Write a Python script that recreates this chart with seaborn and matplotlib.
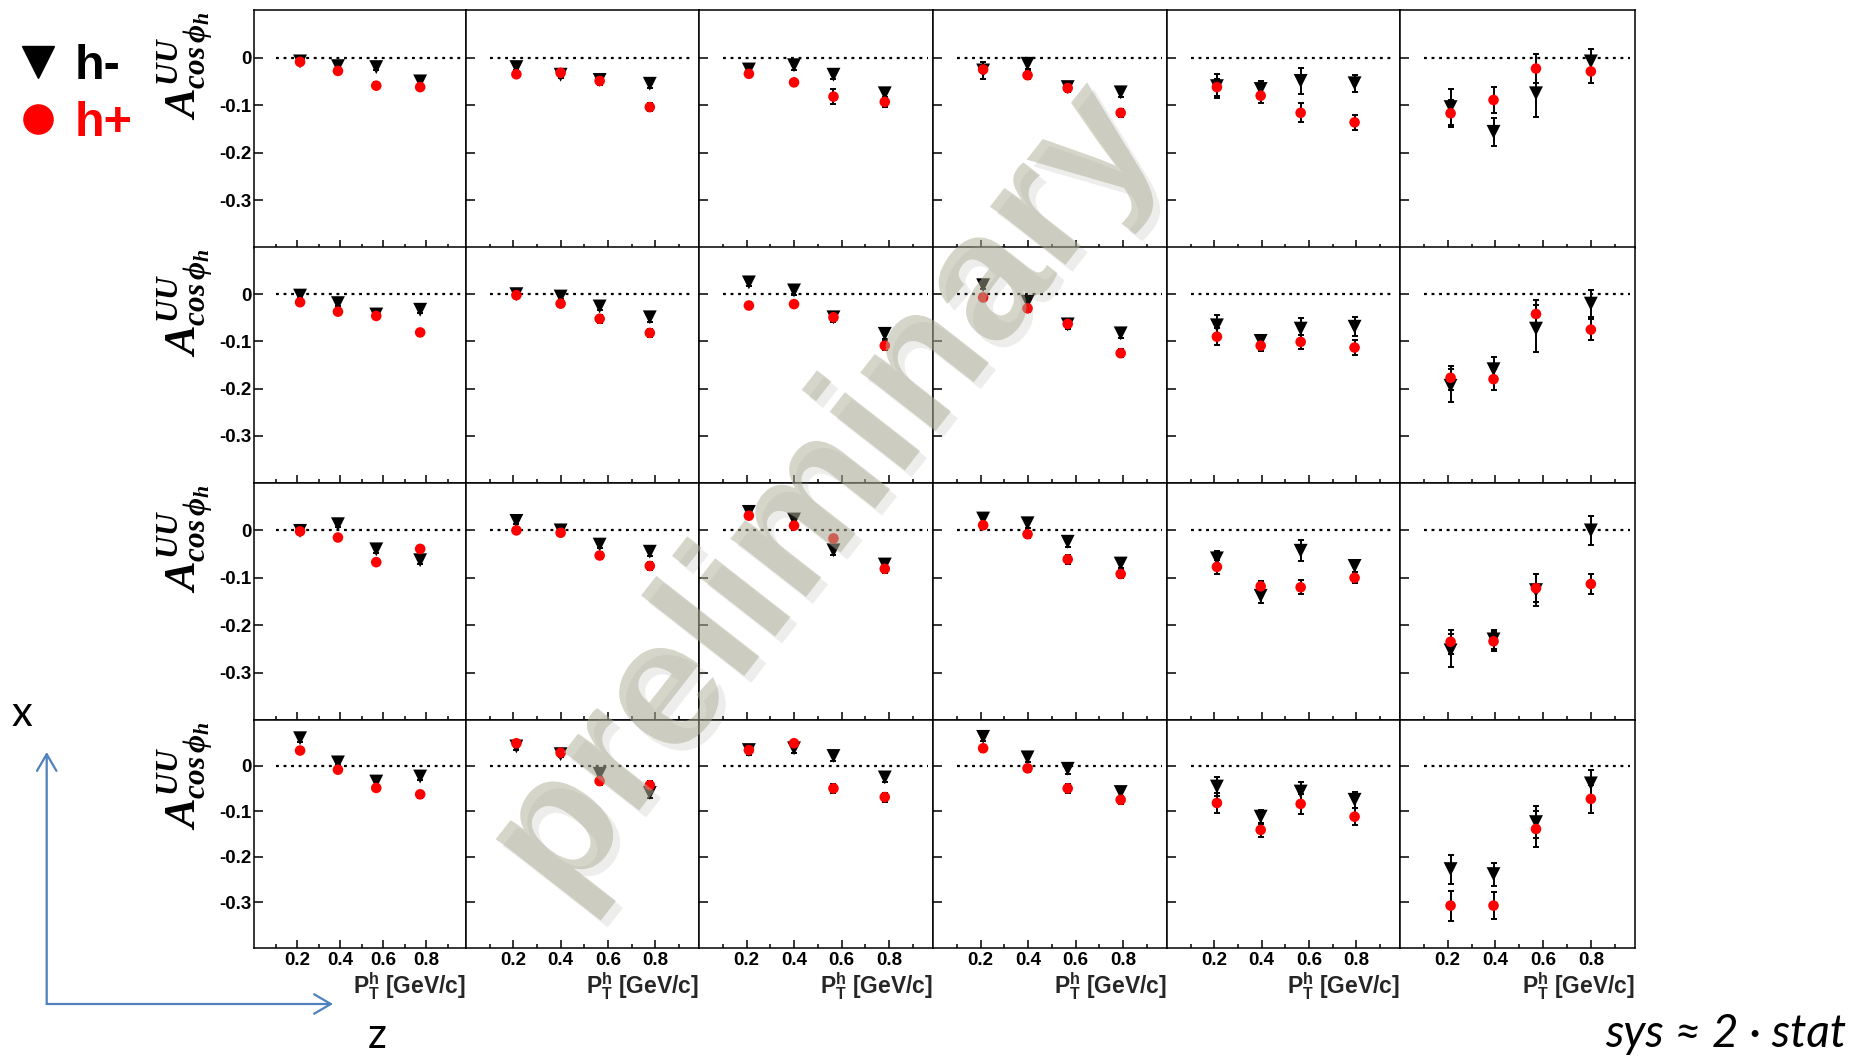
import numpy as np
import pandas as pd
import matplotlib
matplotlib.use("Agg")
import matplotlib.pyplot as plt
import seaborn as sns
from matplotlib.lines import Line2D
from matplotlib.patches import FancyArrowPatch
import matplotlib.patheffects as pe

# ---------------- data ----------------
# columns = z bins (left -> right), rows = x bins (top -> bottom)
PT_MEAN = [
    [0.214, 0.390, 0.568, 0.772],
    [0.213, 0.400, 0.565, 0.777],
    [0.210, 0.400, 0.566, 0.782],
    [0.211, 0.398, 0.567, 0.790],
    [0.211, 0.396, 0.565, 0.793],
    [0.212, 0.392, 0.570, 0.800],
]

# h- values, one list per z column, for each x row
HM_R1 = [[-0.008, -0.018, -0.020, -0.050], [-0.020, -0.036, -0.047, -0.055], [-0.025, -0.016, -0.036, -0.075],
         [-0.027, -0.013, -0.062, -0.073], [-0.060, -0.066, -0.049, -0.054], [-0.104, -0.156, -0.075, -0.008]]
HM_R2 = [[-0.003, -0.019, -0.043, -0.033], [0.000, -0.005, -0.026, -0.049], [0.025, 0.008, -0.049, -0.084],
         [0.019, -0.016, -0.064, -0.083], [-0.066, -0.099, -0.073, -0.069], [-0.194, -0.159, -0.073, -0.020]]
HM_R3 = [[-0.001, 0.013, -0.040, -0.063], [0.020, 0.000, -0.030, -0.045], [0.039, 0.023, -0.042, -0.072],
         [0.025, 0.015, -0.024, -0.070], [-0.059, -0.138, -0.043, -0.075], [-0.253, -0.230, -0.126, 0.000]]
HM_R4 = [[0.060, 0.007, -0.035, -0.024], [0.042, 0.025, -0.018, -0.060], [0.034, 0.038, 0.021, -0.026],
         [0.063, 0.018, -0.007, -0.058], [-0.046, -0.112, -0.057, -0.075], [-0.227, -0.238, -0.124, -0.039]]

# h+ values
HP_R1 = [[-0.009, -0.028, -0.059, -0.062], [-0.035, -0.032, -0.049, -0.104], [-0.034, -0.052, -0.082, -0.093],
         [-0.025, -0.037, -0.064, -0.116], [-0.062, -0.080, -0.116, -0.136], [-0.117, -0.089, -0.023, -0.029]]
HP_R2 = [[-0.017, -0.037, -0.046, -0.081], [-0.002, -0.020, -0.052, -0.082], [-0.024, -0.021, -0.049, -0.109],
         [-0.007, -0.030, -0.063, -0.125], [-0.090, -0.109, -0.101, -0.113], [-0.177, -0.180, -0.042, -0.075]]
HP_R3 = [[-0.002, -0.015, -0.067, -0.039], [0.000, -0.005, -0.053, -0.075], [0.031, 0.010, -0.017, -0.081],
         [0.011, -0.008, -0.061, -0.092], [-0.077, -0.118, -0.120, -0.100], [-0.235, -0.234, -0.122, -0.113]]
HP_R4 = [[0.033, -0.009, -0.049, -0.063], [0.049, 0.028, -0.034, -0.043], [0.034, 0.049, -0.050, -0.069],
         [0.038, -0.006, -0.050, -0.075], [-0.082, -0.141, -0.084, -0.112], [-0.307, -0.307, -0.139, -0.073]]

# statistical errors
EM_R1 = [[0.006, 0.005, 0.007, 0.006], [0.007, 0.006, 0.007, 0.009], [0.008, 0.009, 0.010, 0.010],
         [0.018, 0.010, 0.009, 0.010], [0.025, 0.016, 0.027, 0.018], [0.037, 0.030, 0.050, 0.027]]
EP_R1 = [[0.005, 0.005, 0.007, 0.007], [0.006, 0.006, 0.008, 0.008], [0.007, 0.007, 0.015, 0.010],
         [0.007, 0.008, 0.009, 0.009], [0.018, 0.016, 0.020, 0.016], [0.028, 0.027, 0.030, 0.025]]
EM_R2 = [[0.005, 0.005, 0.006, 0.007], [0.006, 0.006, 0.008, 0.009], [0.008, 0.009, 0.010, 0.010],
         [0.009, 0.008, 0.009, 0.010], [0.022, 0.010, 0.023, 0.020], [0.035, 0.025, 0.050, 0.028]]
EP_R2 = [[0.005, 0.005, 0.006, 0.007], [0.005, 0.006, 0.008, 0.008], [0.007, 0.007, 0.008, 0.009],
         [0.007, 0.007, 0.009, 0.008], [0.018, 0.012, 0.015, 0.015], [0.025, 0.022, 0.030, 0.023]]
EM_R3 = [[0.005, 0.006, 0.007, 0.008], [0.006, 0.006, 0.008, 0.009], [0.008, 0.009, 0.010, 0.010],
         [0.009, 0.009, 0.010, 0.010], [0.015, 0.015, 0.022, 0.012], [0.035, 0.020, 0.033, 0.030]]
EP_R3 = [[0.005, 0.005, 0.006, 0.006], [0.005, 0.005, 0.007, 0.008], [0.007, 0.007, 0.008, 0.008],
         [0.007, 0.007, 0.009, 0.009], [0.015, 0.012, 0.015, 0.012], [0.025, 0.020, 0.030, 0.022]]
EM_R4 = [[0.008, 0.006, 0.007, 0.008], [0.008, 0.007, 0.009, 0.010], [0.010, 0.010, 0.010, 0.011],
         [0.010, 0.010, 0.011, 0.011], [0.020, 0.015, 0.020, 0.018], [0.032, 0.025, 0.035, 0.030]]
EP_R4 = [[0.007, 0.006, 0.007, 0.008], [0.007, 0.007, 0.009, 0.009], [0.008, 0.008, 0.009, 0.010],
         [0.008, 0.008, 0.009, 0.009], [0.022, 0.015, 0.022, 0.018], [0.033, 0.030, 0.040, 0.030]]

X_TICKS = [0.2, 0.4, 0.6, 0.8]
X_TICK_LABELS = ["0.2", "0.4", "0.6", "0.8"]
Y_TICKS = [0.0, -0.1, -0.2, -0.3]
Y_TICK_LABELS = ["0", "-0.1", "-0.2", "-0.3"]
CHARGES = ["h-", "h+"]
Y_LABEL = r"$A^{UU}_{cos\,\phi_h}$"
X_LABEL = r"$\mathbf{P}^{\mathbf{h}}_{\mathbf{T}}$ [GeV/c]"

# ---------------- long table ----------------
rows = [(HM_R1, HP_R1, EM_R1, EP_R1), (HM_R2, HP_R2, EM_R2, EP_R2),
        (HM_R3, HP_R3, EM_R3, EP_R3), (HM_R4, HP_R4, EM_R4, EP_R4)]
recs = []
for r, (hm, hp, em, ep) in enumerate(rows):
    for c in range(6):
        for ch, vals, errs in (("h-", hm, em), ("h+", hp, ep)):
            for k in range(4):
                recs.append(dict(row=r, col=c, charge=ch, pt=PT_MEAN[c][k],
                                 A=vals[c][k], err=errs[c][k]))
df = pd.DataFrame(recs)

# ---------------- style ----------------
sns.set_theme(style="ticks")
plt.rcParams["font.family"] = ["Liberation Sans", "DejaVu Sans"]
plt.rcParams.update({
    "mathtext.fontset": "custom",
    "mathtext.it": "Liberation Serif:italic:bold",
    "mathtext.rm": "Liberation Serif:bold",
    "mathtext.bf": "Liberation Sans:bold",
    "mathtext.sf": "Liberation Sans:bold",
    "axes.edgecolor": "black",
    "xtick.color": "black",
    "ytick.color": "black",
})

W, H = 1851, 1057
fig = plt.figure(figsize=(W / 100, H / 100), dpi=100)
fig.patch.set_facecolor("white")

COL_EDGES = [254, 466, 699, 933, 1167, 1400, 1635]
ROW_EDGES = [(10, 248), (247, 483), (483, 720), (720, 948)]

for r in range(4):
    top, bot = ROW_EDGES[r]
    for c in range(6):
        l, rr = COL_EDGES[c], COL_EDGES[c + 1]
        ax = fig.add_axes([l / W, 1 - bot / H, (rr - l) / W, (bot - top) / H])
        ax.set_facecolor("white")
        sub = df[(df.row == r) & (df.col == c)]
        for ch in CHARGES:
            s = sub[sub.charge == ch]
            ax.errorbar(s.pt, s.A, yerr=s.err, fmt="none", ecolor="black",
                        elinewidth=1.4, capsize=2.3, capthick=1.4, zorder=2)
        sns.scatterplot(data=sub, x="pt", y="A", hue="charge", style="charge", size="charge",
                        hue_order=CHARGES, style_order=CHARGES, size_order=CHARGES,
                        palette={"h-": "black", "h+": "#ff0000"},
                        markers={"h-": "v", "h+": "o"}, sizes={"h-": 100, "h+": 58},
                        linewidth=0, legend=False, ax=ax, zorder=3)
        ax.hlines(0, 0.1, 0.965, colors="black", linestyles=(0, (1.3, 2.1)),
                  linewidth=1.6, zorder=1)
        ax.set_xlim(0, 0.985)
        ax.set_ylim(-0.4, 0.1)
        ax.set_xlabel("")
        ax.set_ylabel("")
        ax.set_xticks(X_TICKS)
        ax.set_xticks([0.1, 0.3, 0.5, 0.7, 0.9], minor=True)
        ax.set_yticks(Y_TICKS)
        ax.set_xticklabels(X_TICK_LABELS, fontweight="bold", fontsize=13.5)
        ax.set_yticklabels(Y_TICK_LABELS, fontweight="bold", fontsize=13.5)
        ax.tick_params(axis="both", which="both", direction="in", top=False, right=False,
                       width=1.1, color="black")
        ax.tick_params(axis="x", which="major", length=6, pad=3)
        ax.tick_params(axis="x", which="minor", length=3)
        ax.tick_params(axis="y", which="major", length=6.5, pad=2)
        ax.tick_params(axis="y", which="minor", left=False)
        if c != 0:
            ax.tick_params(axis="y", labelleft=False)
        if r != 3:
            ax.tick_params(axis="x", labelbottom=False)
        else:
            ax.set_xlabel(X_LABEL, loc="right", fontsize=16.5, fontweight="bold", labelpad=1)
        for sp in ax.spines.values():
            sp.set_linewidth(1.1)
            sp.set_color("black")
    fig.text(186 / W, 1 - (top + 1) / H, Y_LABEL, rotation=90, ha="center", va="top",
             fontsize=32, color="black")

# ---------------- legend ----------------
handles = [Line2D([], [], ls="none", marker="v", color="black", ms=23),
           Line2D([], [], ls="none", marker="o", color="#ff0000", ms=21)]
fig.legend(handles, CHARGES, loc="upper left", bbox_to_anchor=(16 / W, 1 - 44 / H),
           frameon=False, prop={"family": "Liberation Sans", "weight": "bold", "size": 35},
           labelcolor=["black", "#ff0000"], handletextpad=0.3, labelspacing=0.25,
           handlelength=0.9, borderaxespad=0, borderpad=0)

# ---------------- x / z arrows ----------------
blue = "#4f81bd"
corner = (46.7 / W, 1 - 1004 / H)
for tip in [(46.7 / W, 1 - 752 / H), (333 / W, 1 - 1004 / H)]:
    arr = FancyArrowPatch(corner, tip, transform=fig.transFigure,
                          arrowstyle="->,head_length=1.2,head_width=0.7", mutation_scale=10,
                          color=blue, lw=1.6, shrinkA=0, shrinkB=0)
    fig.add_artist(arr)
fig.text(22 / W, 1 - 714 / H, "x", fontsize=30, ha="center", va="center",
         family=["Lato", "DejaVu Sans"], color="black")
fig.text(377 / W, 1 - 1036 / H, "z", fontsize=30, ha="center", va="center",
         family=["Lato", "DejaVu Sans"], color="black")
fig.text(1846 / W, 1 - 1034 / H, "sys \u2248 2 \u00b7 stat", fontsize=33, ha="right",
         va="center", style="italic", family=["Lato", "DejaVu Sans"], color="black")

# ---------------- watermark ----------------
fig.text(826 / W, 1 - 495 / H, "preliminary", rotation=52, fontsize=130, weight="bold",
         color="#aeac96", alpha=0.5, ha="center", va="center", family="Liberation Sans",
         rotation_mode="anchor", zorder=10,
         path_effects=[pe.withSimplePatchShadow(offset=(5, -5), shadow_rgbFace=(0.55, 0.55, 0.5),
                                                alpha=0.15)])

fig.savefig("out.png", dpi=100, facecolor="white")
